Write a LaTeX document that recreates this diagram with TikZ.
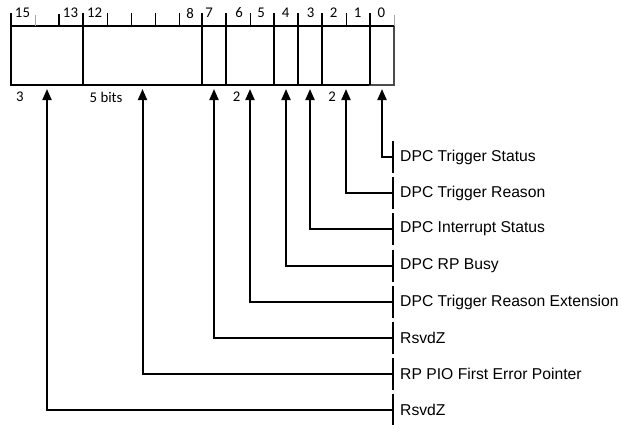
\documentclass[tikz,border=0pt]{standalone}
\usepackage{fontspec}
\newfontfamily\labfont{Liberation Sans}
\newfontfamily\numfont{Carlito}
\usetikzlibrary{arrows.meta}
\tikzset{
  field/.style={draw, line width=2pt, minimum height=59pt, inner sep=0pt, outer sep=0pt},
  lab/.style={anchor=west, inner xsep=7pt, inner ysep=0pt, minimum height=31pt,
    font=\labfont\fontsize{15.7}{18}\selectfont},
  labbar/.style={line width=2pt},
  conn/.style={line width=2pt, -{Triangle[width=9pt,length=11pt]}, shorten >=4pt},
  bitnum/.style={inner sep=0pt, font=\numfont\fontsize{14.8}{16}\selectfont},
  tickmajor/.style={line width=2pt},
  tickminor/.style={line width=1pt},
  tickgray/.style={line width=1pt, draw=gray!70},
}
\begin{document}
\begin{tikzpicture}[x=1pt,y=-1pt]
\useasboundingbox (0,0) rectangle (621,424);
% register fields
\node[field, minimum width=72pt]  (f15) at (47,55.5) {};
\node[field, minimum width=119pt] (f12) at (142.5,55.5) {};
\node[field, minimum width=24pt]  (f7)  at (214,55.5) {};
\node[field, minimum width=48pt]  (f6)  at (250,55.5) {};
\node[field, minimum width=24pt]  (f4)  at (286,55.5) {};
\node[field, minimum width=24pt]  (f3)  at (310,55.5) {};
\node[field, minimum width=48pt]  (f2)  at (346,55.5) {};
\node[field, minimum width=24pt, draw=gray!60!black, line width=1.3pt] (f0) at (382,55.5) {};
\draw[line width=2pt] (f0.north west) -- (f0.north east);
\draw[line width=2pt] (f0.north west) -- (f0.south west);
% ticks
\foreach \x in {11,83,202,226,274,298,322,370} \draw[tickmajor] (\x,26) -- (\x,12.5);
\draw[tickmajor] (59,26) -- (59,13.5);
\foreach \x in {107,131,155,179,250,346} \draw[tickminor] (\x.5,26) -- (\x.5,13);
\foreach \x in {35,394} \draw[tickgray] (\x.5,25.5) -- (\x.5,15);
% bit numbers
\foreach \b/\x in {15/22.5,13/70.5,12/94.5,8/190,7/209,6/239,5/261,4/285.5,3/310.5,2/333.5,1/357.5,0/381.3}
  \node[bitnum] (b\b) at (\x,13) {\b};
% widths below
\node[bitnum] (w15) at (20,97) {3};
\node[bitnum, anchor=west] (w12) at (89.5,97) {5 bits};
\node[bitnum] (w6) at (236.5,97) {2};
\node[bitnum] (w2) at (332,97) {2};
% labels
\node[lab] (l0) at (393,157) {DPC Trigger Status};
\node[lab] (l2) at (393,193) {DPC Trigger Reason};
\node[lab] (l3) at (393,229) {DPC Interrupt Status};
\node[lab] (l4) at (393,266) {DPC RP Busy};
\node[lab] (l6) at (393,302) {DPC Trigger Reason Extension};
\node[lab] (l7) at (393,338) {RsvdZ};
\node[lab] (l12) at (393,374) {RP PIO First Error Pointer};
\node[lab] (l15) at (393,410) {RsvdZ};
\foreach \n in {l0,l2,l3,l4,l6,l7,l12,l15}
  \draw[labbar] (\n.south west) -- (\n.north west);
% connectors
\draw[conn] (l0.west) -| (f0.south);
\draw[conn] (l2.west) -| (f2.south);
\draw[conn] (l3.west) -| (f3.south);
\draw[conn] (l4.west) -| (f4.south);
\draw[conn] (l6.west) -| (f6.south);
\draw[conn] (l7.west) -| (f7.south);
\draw[conn] (l12.west) -| (f12.south);
\draw[conn] (l15.west) -| (f15.south);
\end{tikzpicture}
\end{document}
